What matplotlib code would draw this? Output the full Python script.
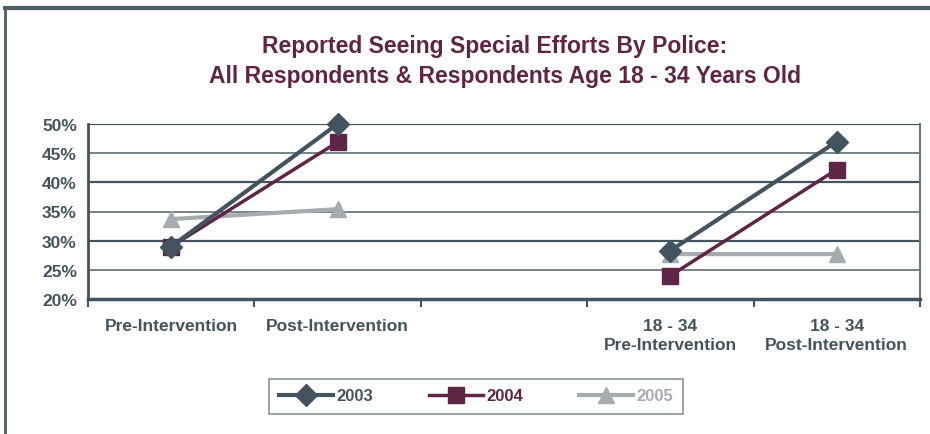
import matplotlib
matplotlib.use("Agg")
import matplotlib.pyplot as plt
import numpy as np
from matplotlib import font_manager

categories = ["Pre-Intervention", "Post-Intervention", "", "18 - 34\nPre-Intervention", "18 - 34\nPost-Intervention"]
series_names = ["2003", "2004", "2005"]
v2003 = [29.0, 50.0, None, 28.3, 47.0]
v2004 = [29.0, 46.9, None, 24.0, 42.2]
v2005 = [33.7, 35.4, None, 27.7, 27.7]
y_ticks = [20, 25, 30, 35, 40, 45, 50]

names = {f.name for f in font_manager.fontManager.ttflist}
fam = ["Liberation Sans Narrow", "DejaVu Sans"] if "Liberation Sans Narrow" in names else ["Liberation Sans", "DejaVu Sans"]
plt.rcParams['font.family'] = fam

c2003 = "#44545e"
c2004 = "#5e2545"
c2005 = "#a6abaf"
title_c = "#5e2545"
axis_c = "#44545e"

fig = plt.figure(figsize=(9.3, 4.35), dpi=100)
ax = fig.add_axes([88/930, 1-300/435, (920-88)/930, (300-125)/435])

x = np.arange(len(categories))
def seg(vals):
    return np.array([np.nan if v is None else v for v in vals], dtype=float)

ax.plot(x, seg(v2005), color=c2005, lw=3, marker="^", ms=11, label="2005", zorder=3, clip_on=False)
ax.plot(x, seg(v2004), color=c2004, lw=2.5, marker="s", ms=11, label="2004", zorder=4, clip_on=False)
ax.plot(x, seg(v2003), color=c2003, lw=3, marker="D", ms=11, label="2003", zorder=5, clip_on=False)

ax.set_xlim(-0.5, len(categories) - 0.5)
ax.set_ylim(20, 50)
ax.set_yticks(y_ticks)
ax.set_yticklabels([f"{t}%" for t in y_ticks])
for t in y_ticks[1:]:
    ax.axhline(t, color=axis_c if t % 10 == 0 else "#6b7880", lw=1.6 if t % 10 == 0 else 1.3, zorder=1)

ax.set_xticks(np.arange(len(categories) + 1) - 0.5, minor=False)
ax.set_xticklabels([])
ax.tick_params(axis='x', direction='out', length=6, width=1.5, color=axis_c)
ax.tick_params(axis='y', length=0, pad=8, labelsize=12.5, labelcolor=axis_c)
for lab in ax.get_yticklabels():
    lab.set_fontweight("bold")
for i, c in enumerate(categories):
    ax.text(x[i], -0.11, c, transform=ax.get_xaxis_transform(), ha="center", va="top",
            fontsize=12.5, fontweight="bold", color=axis_c, linespacing=1.35)

ax.spines["top"].set_visible(False)
ax.spines["left"].set_color(axis_c)
ax.spines["left"].set_linewidth(2)
ax.spines["bottom"].set_color(axis_c)
ax.spines["bottom"].set_linewidth(2.5)
ax.spines["right"].set_color("#6b7880")
ax.spines["right"].set_linewidth(1.5)

fig.text(0.532, 1-46/435, "Reported Seeing Special Efforts By Police:", ha="center", va="center",
         fontsize=16.5, fontweight="bold", color=title_c)
fig.text(0.543, 1-77/435, "All Respondents & Respondents Age 18 - 34 Years Old", ha="center", va="center",
         fontsize=16.5, fontweight="bold", color=title_c)

# frame
fig.add_artist(plt.Line2D([5/930, 1], [1-9/435, 1-9/435], transform=fig.transFigure, color="#505e66", lw=3))
fig.add_artist(plt.Line2D([5/930, 5/930], [0, 1-9/435], transform=fig.transFigure, color="#505e66", lw=2))

h, l = ax.get_legend_handles_labels()
order = [2, 1, 0]
leg = fig.legend([h[i] for i in order], [l[i] for i in order], loc="center",
                 bbox_to_anchor=(476/930, 1-397/435), ncol=3, frameon=True,
                 handlelength=3.2, columnspacing=3.4, handletextpad=0.2,
                 prop={"weight": "bold", "size": 12, "family": fam}, fancybox=False,
                 borderpad=0.6, borderaxespad=0)
leg.get_frame().set_edgecolor("#6b7880")
leg.get_frame().set_linewidth(1.2)
for txt, col in zip(leg.get_texts(), [c2003, c2004, c2005]):
    txt.set_color(col)

fig.savefig("out.png", dpi=100)
